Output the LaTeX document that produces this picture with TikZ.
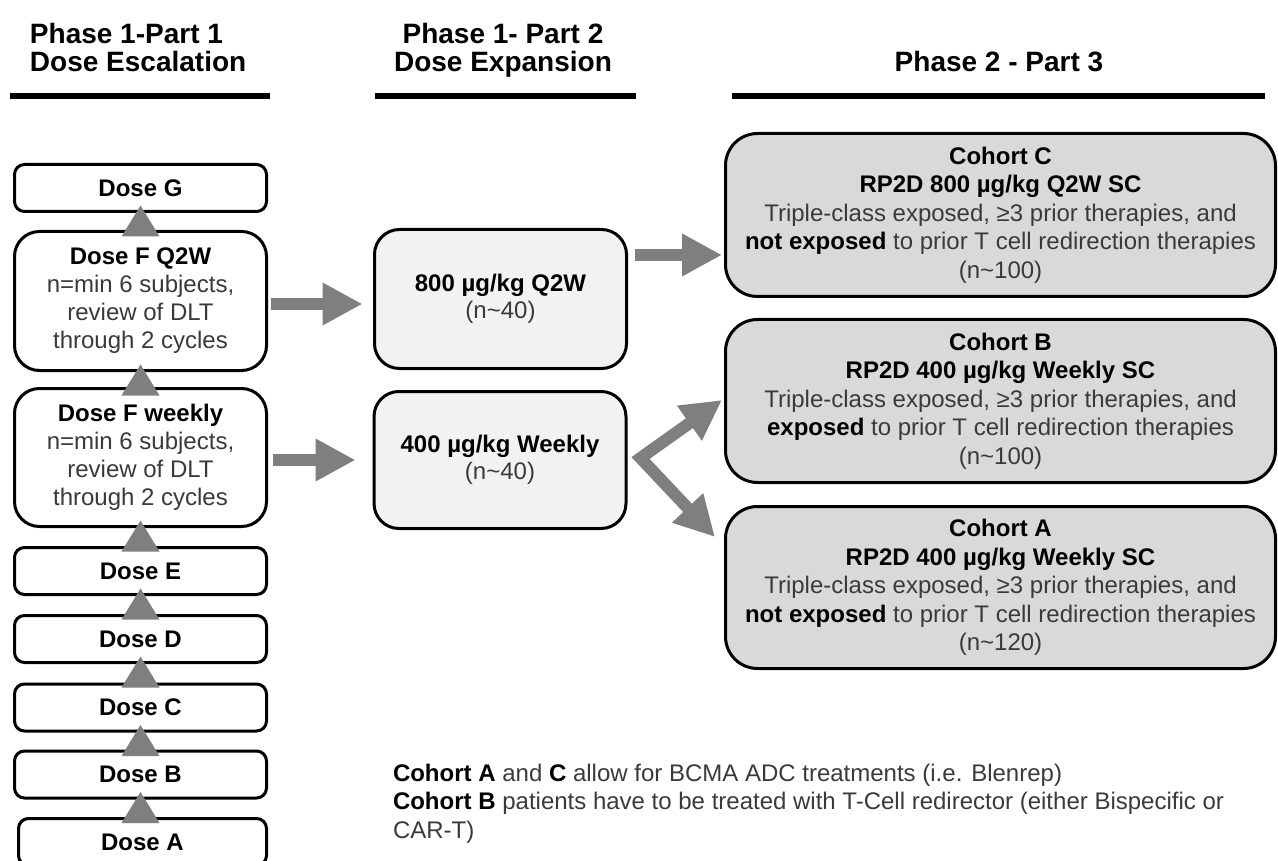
\documentclass[tikz,border=0pt]{standalone}
\usepackage{fontspec}
\setmainfont{Liberation Sans}
\usetikzlibrary{arrows.meta,calc}
\definecolor{arrowgrey}{HTML}{7F7F7F}
\definecolor{midfill}{HTML}{F2F2F2}
\definecolor{cohfill}{HTML}{D9D9D9}
\definecolor{txtgrey}{HTML}{3A3A3A}
\newcommand\tild{\textasciitilde}
\newcommand\boldk[1]{{\color{black}\bfseries #1}}
\begin{document}
\begin{tikzpicture}[x=1pt,y=-1pt,
  every node/.style={inner sep=0pt, outer sep=0pt},
  dosebox/.style={draw=black, line width=3pt, fill=white, rounded corners=10pt,
    minimum width=252pt, minimum height=47pt, align=center, text=black,
    font=\fontsize{24}{28}\selectfont\bfseries},
  bigdose/.style={draw=black, line width=3pt, fill=white, rounded corners=25pt,
    minimum width=252pt, minimum height=139pt, align=center, text=txtgrey,
    font=\fontsize{24}{28}\selectfont},
  midbox/.style={draw=black, line width=3pt, fill=midfill, rounded corners=25pt,
    minimum width=252pt, minimum height=139pt, align=center, text=txtgrey,
    font=\fontsize{24}{27}\selectfont},
  cohbox/.style={draw=black, line width=3pt, fill=cohfill, rounded corners=32pt,
    minimum width=550pt, minimum height=163pt, align=center, text=txtgrey,
    font=\fontsize{24}{28.6}\selectfont},
  blockarrow/.style={draw=arrowgrey, line width=12pt,
    -{Triangle[length=40pt,width=40pt]}},
  forkarrow/.style={draw=arrowgrey, line width=12pt, line join=miter,
    {Triangle[length=40pt,width=40pt]}-{Triangle[length=40pt,width=40pt]}},
  uptri/.style={fill=arrowgrey},
  heading/.style={font=\fontsize{28}{28}\selectfont\bfseries, text=black},
  headrule/.style={line width=6pt, black}
]
\useasboundingbox (0,0) rectangle (1278,861);
\clip (0,0) rectangle (1278,861);

% headings
\node[heading, anchor=north west, align=left] (h1) at (30,23.5) {Phase 1-Part 1\\Dose Escalation};
\node[heading, anchor=north, align=center] (h2) at (503,23.5) {Phase 1- Part 2\\Dose Expansion};
\node[heading, anchor=base] (h3) at (999,72) {Phase 2 - Part 3};
\draw[headrule] (10,96) -- (270,96);
\draw[headrule] (375,96) -- (636,96);
\draw[headrule] (732,96) -- (1265,96);

% dose escalation column
\node[dosebox] (dG) at (140.5,188) {Dose G};
\node[bigdose] (dFq) at (140.5,301) {\boldk{Dose F Q2W}\\n=min 6 subjects,\\review of DLT\\through 2 cycles};
\node[bigdose, minimum height=138pt] (dFw) at (140.5,457.5) {\boldk{Dose F weekly}\\n=min 6 subjects,\\review of DLT\\through 2 cycles};
\node[dosebox] (dE) at (140.5,571) {Dose E};
\node[dosebox] (dD) at (140.5,639) {Dose D};
\node[dosebox] (dC) at (140.5,707.5) {Dose C};
\node[dosebox] (dB) at (140.5,774.5) {Dose B};
\node[dosebox, minimum width=248pt] (dA) at (142.5,842) {Dose A};

% escalation triangles
\foreach \u in {dG,dFq,dFw,dE,dD,dC,dB}{
  \fill[uptri] ($(\u.south)+(0,-6)$) -- ++(19,31) -- ++(-38,0) -- cycle;
}

% dose expansion
\node[midbox] (m800) at (500.5,299) {\boldk{800 µg/kg Q2W}\\(n\tild40)};
\node[midbox, minimum height=137pt] (m400) at (500,460) {\boldk{400 µg/kg Weekly}\\(n\tild40)};

% phase 2 cohorts
\node[cohbox] (cohC) at (1000.5,215) {\boldk{Cohort C}\\\boldk{RP2D 800 µg/kg Q2W SC}\\Triple-class exposed, ≥3 prior therapies, and\\\boldk{not exposed} to prior T cell redirection therapies\\(n\tild100)};
\node[cohbox] (cohB) at (1000.5,401) {\boldk{Cohort B}\\\boldk{RP2D 400 µg/kg Weekly SC}\\Triple-class exposed, ≥3 prior therapies, and\\\boldk{exposed} to prior T cell redirection therapies\\(n\tild100)};
\node[cohbox, minimum height=162pt] (cohA) at (1000.5,587.5) {\boldk{Cohort A}\\\boldk{RP2D 400 µg/kg Weekly SC}\\Triple-class exposed, ≥3 prior therapies, and\\\boldk{not exposed} to prior T cell redirection therapies\\(n\tild120)};

% arrows
\draw[blockarrow] ($(dFq.east)+(4,3)$) -- ($(m800.west)+(-12,5)$);
\draw[blockarrow] ($(dFw.east)+(6,2.5)$) -- ($(m400.west)+(-18.5,0)$);
\draw[blockarrow] ($(m800.east)+(8,-44)$) -- ($(cohC.west)+(-3.5,40)$);
\draw[forkarrow] ($(cohB.west)+(-3.5,-1)$) -- ($(m400.east)+(14.5,-2)$) -- ($(cohA.north west)+(-10.5,30.5)$);

% footnote
\node[anchor=north west, align=left, text=txtgrey, font=\fontsize{24}{28.5}\selectfont] (foot) at (393,764)
  {\boldk{Cohort A} and \boldk{C} allow for BCMA ADC treatments (i.e. Blenrep)\\
   \boldk{Cohort B} patients have to be treated with T-Cell redirector (either Bispecific or\\
   CAR-T)};
\end{tikzpicture}
\end{document}
